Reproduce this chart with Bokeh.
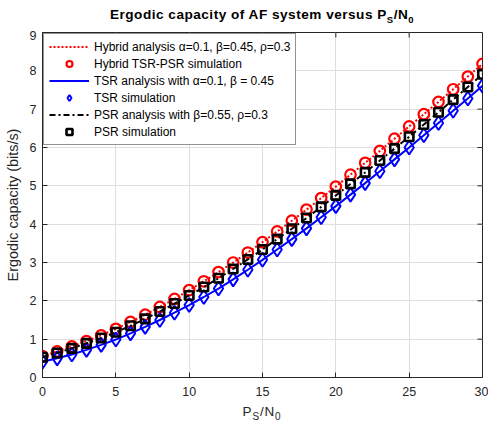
from bokeh.plotting import figure
from bokeh.models import Range1d, Legend, LegendItem, FixedTicker, Div
from bokeh.layouts import column
from bokeh.embed import file_html
from bokeh.resources import INLINE

# ---- data ----
ps_n0 = list(range(0, 31))
hybrid = [0.56, 0.68, 0.81, 0.95, 1.10, 1.27, 1.45, 1.64, 1.84, 2.05,
          2.28, 2.51, 2.75, 3.00, 3.26, 3.53, 3.81, 4.09, 4.38, 4.68,
          4.98, 5.29, 5.60, 5.91, 6.23, 6.55, 6.87, 7.19, 7.52, 7.85, 8.18]
tsr = [0.41, 0.50, 0.60, 0.72, 0.85, 0.99, 1.15, 1.32, 1.50, 1.69,
       1.89, 2.10, 2.32, 2.56, 2.81, 3.07, 3.34, 3.61, 3.89, 4.18,
       4.47, 4.77, 5.07, 5.38, 5.69, 6.00, 6.32, 6.64, 6.96, 7.28, 7.61]
psr = [0.53, 0.64, 0.76, 0.89, 1.03, 1.18, 1.35, 1.53, 1.72, 1.93,
       2.14, 2.36, 2.59, 2.83, 3.08, 3.34, 3.61, 3.88, 4.16, 4.45,
       4.75, 5.05, 5.35, 5.66, 5.97, 6.28, 6.60, 6.92, 7.25, 7.58, 7.91]
x_ticks = [0, 5, 10, 15, 20, 25, 30]
y_ticks = [0, 1, 2, 3, 4, 5, 6, 7, 8, 9]
legend_labels = [
    "Hybrid analysis \u03b1=0.1, \u03b2=0.45, \u03c1=0.3",
    "Hybrid TSR-PSR simulation",
    "TSR analysis with \u03b1=0.1, \u03b2 = 0.45",
    "TSR simulation",
    "PSR analysis with \u03b2=0.55, \u03c1=0.3",
    "PSR simulation",
]
title_html = "Ergodic capacity of AF system versus P<sub>S</sub>/N<sub>0</sub>"
xlabel_html = "P<sub>S</sub>/N<sub>0</sub>"
ylabel = "Ergodic capacity (bits/s)"

FONT = "Liberation Sans"
DARK = "#262626"

p = figure(width=488, height=370, output_backend="svg", toolbar_location=None,
           x_range=Range1d(x_ticks[0], x_ticks[-1]), y_range=Range1d(y_ticks[0], y_ticks[-1]),
           title=None,
           min_border_left=42, min_border_right=6, min_border_top=2, min_border_bottom=23)
p.outline_line_color = DARK
p.outline_line_width = 1
p.background_fill_color = "white"
p.border_fill_color = "white"

p.xaxis.ticker = FixedTicker(ticks=x_ticks)
p.yaxis.ticker = FixedTicker(ticks=y_ticks)
for ax in (p.xaxis[0], p.yaxis[0]):
    ax.major_tick_in = 5
    ax.major_tick_out = 0
    ax.minor_tick_line_color = None
    ax.axis_line_color = DARK
    ax.major_tick_line_color = DARK
    ax.major_label_text_font = FONT
    ax.major_label_text_font_size = "12.5px"
    ax.major_label_text_color = DARK
p.xaxis.major_label_standoff = 9
p.yaxis.major_label_standoff = 6
p.yaxis.axis_label = ylabel
p.yaxis.axis_label_text_font = FONT
p.yaxis.axis_label_text_font_size = "14.4px"
p.yaxis.axis_label_text_font_style = "normal"
p.yaxis.axis_label_text_color = DARK
p.yaxis.axis_label_standoff = 6

p.grid.grid_line_color = "#dedede"
p.grid.grid_line_width = 1
p.xgrid.ticker = FixedTicker(ticks=x_ticks)
p.ygrid.ticker = FixedTicker(ticks=y_ticks)

# inward ticks on the top and right edges of the box
top, right = y_ticks[-1], x_ticks[-1]
p.segment(x0=x_ticks, y0=[top] * len(x_ticks), x1=x_ticks, y1=[top - 0.13] * len(x_ticks),
          line_color=DARK, line_width=1)
p.segment(x0=[right] * len(y_ticks), y0=y_ticks, x1=[right - 0.34] * len(y_ticks), y1=y_ticks,
          line_color=DARK, line_width=1)

r_hl = p.line(ps_n0, hybrid, line_color="red", line_width=2, line_dash="2 2")
r_hs = p.scatter(ps_n0, hybrid, marker="circle", size=10.5, fill_color=None,
                 line_color="red", line_width=2.2)
r_tl = p.line(ps_n0, tsr, line_color="blue", line_width=2)
r_ts = p.scatter(ps_n0, tsr, marker="diamond", size=14, fill_color=None,
                 line_color="blue", line_width=2)
r_pl = p.line(ps_n0, psr, line_color="black", line_width=2, line_dash="6 3 2 3")
r_ps = p.scatter(ps_n0, psr, marker="square", size=8.5, fill_color=None,
                 line_color="black", line_width=2.6)

items = [LegendItem(label=lab, renderers=[r]) for lab, r in
         zip(legend_labels, [r_hl, r_hs, r_tl, r_ts, r_pl, r_ps])]
legend = Legend(items=items, location="top_left", label_text_font=FONT,
                label_text_font_size="12px", label_text_color="black",
                glyph_width=40, glyph_height=15, spacing=2, padding=5, margin=1,
                label_standoff=5, label_height=15,
                border_line_color=DARK, border_line_width=1, background_fill_alpha=1)
p.add_layout(legend, "center")

title_div = Div(
    text=(f'<div style="width:440px;padding-top:7px;font-family:\'{FONT}\';font-size:13.6px;'
          f'font-weight:bold;letter-spacing:0.5px;line-height:15px;text-align:center;'
          f'color:#000;white-space:nowrap">'
          f'{title_html}</div>').replace("<sub>", '<sub style="font-size:9.5px;line-height:0">'),
    width=440, height=30, margin=(0, 0, 0, 42))
xlabel_div = Div(
    text=(f'<div style="width:440px;padding-top:4px;font-family:\'{FONT}\';font-size:13.5px;'
          f'letter-spacing:0.8px;line-height:15px;text-align:center;color:{DARK};'
          f'white-space:nowrap">'
          f'{xlabel_html}</div>').replace("<sub>", '<sub style="font-size:10px;line-height:0">'),
    width=440, height=20, margin=(0, 0, 0, 42))

layout = column(title_div, p, xlabel_div, spacing=0)
open("out.html", "w").write(file_html(layout, INLINE))
